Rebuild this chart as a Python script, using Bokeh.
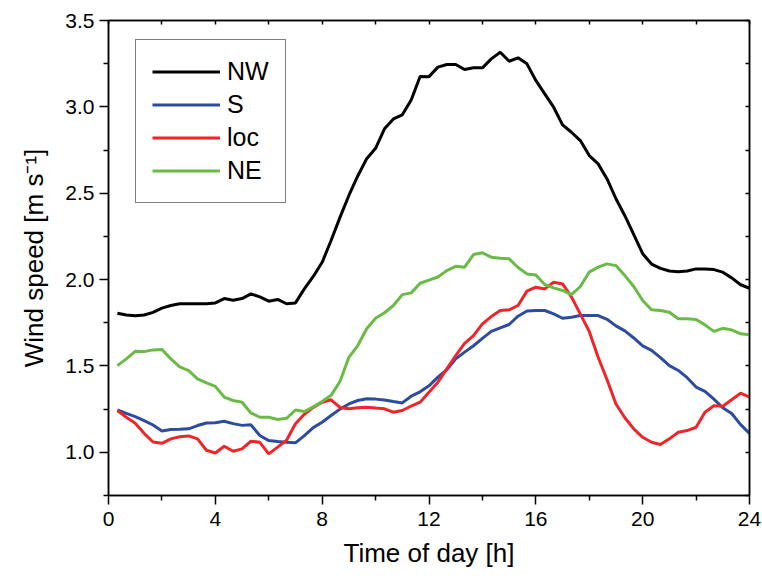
import numpy as np
from bokeh.plotting import figure
from bokeh.models import LinearAxis, Range1d, FixedTicker, PrintfTickFormatter
from bokeh.embed import file_html
from bokeh.resources import INLINE

# Time of day [h], 20-minute steps
hours = [round(k / 3, 3) for k in range(1, 73)]

nw = [1.805, 1.795, 1.79, 1.795, 1.81, 1.835, 1.85, 1.86, 1.86, 1.86, 1.86, 1.865,
      1.89, 1.88, 1.89, 1.917, 1.90, 1.875, 1.885, 1.86, 1.865, 1.946, 2.018, 2.10,
      2.226, 2.36, 2.487, 2.60, 2.70, 2.76, 2.873, 2.93, 2.954, 3.04, 3.176, 3.175,
      3.23, 3.245, 3.245, 3.216, 3.226, 3.226, 3.278, 3.316, 3.264, 3.284, 3.249, 3.153,
      3.075, 2.998, 2.896, 2.853, 2.805, 2.718, 2.67, 2.583, 2.468, 2.37, 2.26, 2.15,
      2.09, 2.065, 2.05, 2.046, 2.05, 2.062, 2.062, 2.058, 2.043, 2.01, 1.97, 1.95]

s = [1.245, 1.225, 1.207, 1.184, 1.158, 1.124, 1.132, 1.133, 1.136, 1.155, 1.17, 1.171,
     1.18, 1.166, 1.156, 1.159, 1.097, 1.068, 1.062, 1.058, 1.055, 1.097, 1.143, 1.174,
     1.213, 1.25, 1.28, 1.30, 1.31, 1.308, 1.303, 1.294, 1.286, 1.325, 1.35, 1.385,
     1.435, 1.478, 1.541, 1.58, 1.617, 1.66, 1.70, 1.72, 1.74, 1.788, 1.818, 1.821,
     1.821, 1.802, 1.776, 1.782, 1.792, 1.792, 1.792, 1.77, 1.732, 1.703, 1.662, 1.616,
     1.59, 1.548, 1.502, 1.474, 1.432, 1.378, 1.353, 1.308, 1.258, 1.225, 1.16, 1.11]

loc = [1.242, 1.203, 1.168, 1.11, 1.06, 1.052, 1.078, 1.09, 1.095, 1.078, 1.012, 0.996,
       1.035, 1.006, 1.02, 1.064, 1.058, 0.991, 1.03, 1.07, 1.165, 1.22, 1.26, 1.29,
       1.304, 1.26, 1.252, 1.258, 1.261, 1.256, 1.252, 1.232, 1.242, 1.268, 1.29, 1.348,
       1.406, 1.483, 1.56, 1.631, 1.676, 1.744, 1.786, 1.821, 1.825, 1.85, 1.933, 1.956,
       1.946, 1.985, 1.975, 1.90, 1.80, 1.70, 1.55, 1.42, 1.28, 1.20, 1.136, 1.087,
       1.058, 1.045, 1.078, 1.116, 1.126, 1.145, 1.232, 1.27, 1.267, 1.304, 1.342, 1.32]

ne = [1.502, 1.541, 1.585, 1.583, 1.593, 1.595, 1.541, 1.495, 1.473, 1.425, 1.402, 1.382,
      1.32, 1.30, 1.29, 1.228, 1.203, 1.203, 1.19, 1.197, 1.245, 1.236, 1.263, 1.294,
      1.33, 1.41, 1.55, 1.618, 1.715, 1.776, 1.808, 1.85, 1.913, 1.923, 1.979, 1.997,
      2.015, 2.052, 2.077, 2.072, 2.145, 2.155, 2.13, 2.124, 2.12, 2.07, 2.033, 2.027,
      1.971, 1.952, 1.937, 1.913, 1.96, 2.043, 2.072, 2.091, 2.081, 2.023, 1.96, 1.879,
      1.825, 1.821, 1.811, 1.773, 1.773, 1.769, 1.738, 1.70, 1.718, 1.709, 1.686, 1.68]

series_names = ["NW", "S", "loc", "NE"]
series_values = [nw, s, loc, ne]
series_colors = ["#000000", "#2E4C9E", "#EE2529", "#6ABB45"]

x_ticks = [0, 4, 8, 12, 16, 20, 24]
x_minor = [2, 6, 10, 14, 18, 22]
y_ticks = [1.0, 1.5, 2.0, 2.5, 3.0, 3.5]
y_minor = [0.75, 1.25, 1.75, 2.25, 2.75, 3.25]

FONT = "Liberation Sans"

p = figure(width=762, height=578, output_backend="svg", toolbar_location=None,
           x_range=Range1d(0, 24), y_range=Range1d(0.75, 3.5),
           min_border_left=108, min_border_right=13, min_border_top=20, min_border_bottom=83)
p.grid.visible = False
p.outline_line_color = "black"
p.outline_line_width = 1.5

for name, vals, col in zip(series_names, series_values, series_colors):
    p.line(hours, vals, line_color=col, line_width=3, legend_label=name)

xa = p.xaxis[0]
xa.ticker = FixedTicker(ticks=x_ticks, minor_ticks=x_minor)
xa.axis_label = "Time of day [h]"
ya = p.yaxis[0]
ya.ticker = FixedTicker(ticks=y_ticks, minor_ticks=y_minor)
ya.axis_label = "Wind speed [m s\u207b\u00b9]"
ya.formatter = PrintfTickFormatter(format="%.1f")

for ax in (xa, ya):
    ax.axis_line_width = 1.5
    ax.axis_line_color = "black"
    ax.major_tick_line_width = 1.5
    ax.minor_tick_line_width = 1.5
    ax.major_tick_line_color = "black"
    ax.minor_tick_line_color = "black"
    ax.major_tick_out = 9
    ax.major_tick_in = 0
    ax.minor_tick_out = 5
    ax.minor_tick_in = 0
    ax.major_label_text_font = FONT
    ax.major_label_text_font_size = "21px"
    ax.major_label_text_color = "black"
    ax.axis_label_text_font = FONT
    ax.axis_label_text_font_size = "26px"
    ax.axis_label_text_font_style = "normal"
    ax.axis_label_text_color = "black"
xa.major_label_standoff = 7
xa.axis_label_standoff = 9
ya.major_label_standoff = 5
ya.axis_label_standoff = 13

# mirrored frame ticks (inward, no labels)
top = LinearAxis(ticker=FixedTicker(ticks=[], minor_ticks=x_ticks + x_minor))
right = LinearAxis(ticker=FixedTicker(ticks=[], minor_ticks=y_ticks + y_minor))
for ax in (top, right):
    ax.axis_line_width = 1.5
    ax.minor_tick_line_width = 1.5
    ax.major_tick_in = 0
    ax.major_tick_out = 0
    ax.minor_tick_in = 4
    ax.minor_tick_out = 0
    ax.major_label_standoff = 0
p.add_layout(top, "above")
p.add_layout(right, "right")

lg = p.legend[0]
lg.location = (27, 292)
lg.border_line_color = "black"
lg.border_line_width = 1.5
lg.background_fill_color = "white"
lg.background_fill_alpha = 1
lg.padding = 16
lg.spacing = 2
lg.glyph_width = 68
lg.glyph_height = 31
lg.label_height = 31
lg.label_standoff = 7
lg.label_text_font = FONT
lg.label_text_font_size = "25px"
lg.label_text_color = "black"
lg.margin = 0

open("out.html", "w").write(file_html(p, INLINE))
